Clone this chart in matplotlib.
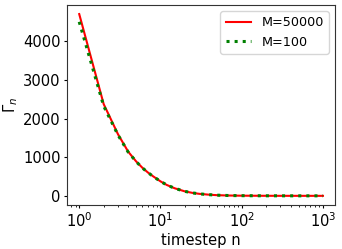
import numpy as np
import matplotlib
matplotlib.use("Agg")
import matplotlib.pyplot as plt

# values
steps = [1, 2, 3, 4, 5, 6, 7, 8, 10, 12, 15, 20, 25, 30, 40, 50, 70, 100, 200, 500, 1000]
gamma_big = [4710, 2380, 1600, 1150, 900, 730, 610, 520, 380, 285, 200, 120, 80, 57, 34, 22, 13, 9, 6, 5, 5]
gamma_small = [4510, 2330, 1580, 1140, 895, 727, 608, 518, 380, 285, 200, 120, 80, 57, 34, 22, 13, 9, 6, 5, 5]

plt.rcParams["font.size"] = 10.6
plt.rcParams["axes.labelpad"] = 2
plt.rcParams["xtick.major.size"] = 2.5
plt.rcParams["ytick.major.size"] = 2.5
plt.rcParams["xtick.minor.size"] = 1.5
plt.rcParams["xtick.major.pad"] = 2
plt.rcParams["ytick.major.pad"] = 2
plt.rcParams["axes.edgecolor"] = "#333333"

fig = plt.figure(figsize=(3.42, 2.49), dpi=100)
ax = fig.add_axes([0.196, 0.177, 0.784, 0.803])

ax.plot(steps, gamma_big, color="red", lw=1.5, label="M=50000")
ax.plot(steps, gamma_small, color="green", lw=2.2, ls=":", label="M=100")
ax.set_xscale("log")
ax.set_xlabel("timestep n")
ax.set_ylabel(r"$\Gamma_n$")
ax.legend(loc="upper right", fontsize=9.2)

fig.savefig("out.png", dpi=100)
